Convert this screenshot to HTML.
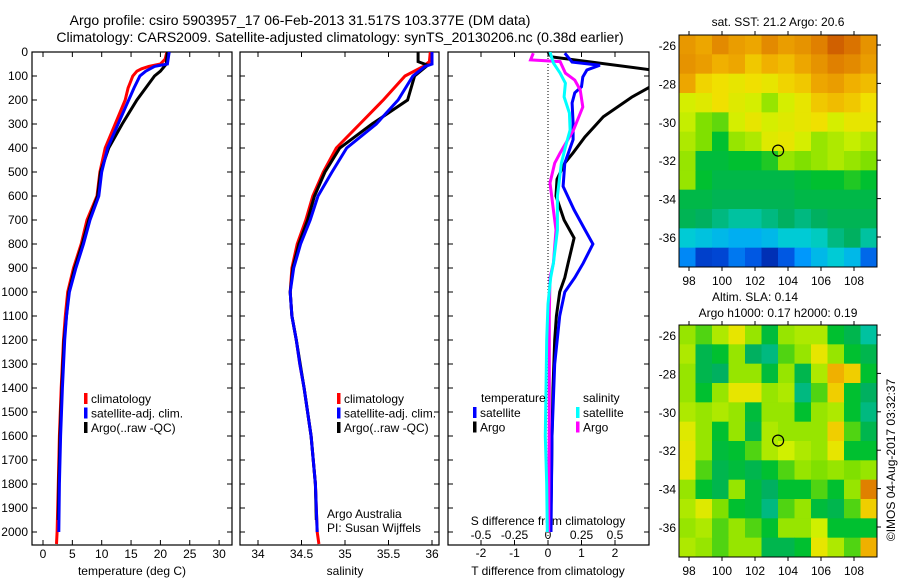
<!DOCTYPE html>
<html><head><meta charset="utf-8"><style>
html,body{margin:0;padding:0;background:#fff;}
svg{display:block;font-family:"Liberation Sans",sans-serif;}
text{fill:#000;}
</style></head><body>
<svg id="fig" width="900" height="580" viewBox="0 0 900 580" xmlns="http://www.w3.org/2000/svg">
<defs>
<clipPath id="c1"><rect x="32" y="52" width="200" height="493"/></clipPath>
<clipPath id="c2"><rect x="240" y="52" width="199" height="493"/></clipPath>
<clipPath id="c3"><rect x="448" y="52" width="201" height="493"/></clipPath>
</defs>
<text x="300" y="25" font-size="14" text-anchor="middle">Argo profile: csiro 5903957_17 06-Feb-2013 31.517S 103.377E (DM data)</text>
<text x="340" y="42" font-size="14" text-anchor="middle">Climatology: CARS2009. Satellite-adjusted climatology: synTS_20130206.nc (0.38d earlier)</text>
<g id="p1"></g>
<g id="p2"></g>
<g id="p3"></g>
<g id="m1"></g>
<g id="m2"></g>
<text x="895" y="460" font-size="12" text-anchor="middle" transform="rotate(-90 895 460)">©IMOS 04-Aug-2017 03:32:37</text>
</svg>
<script>
// ---- data ----
const depthTicks=[0,100,200,300,400,500,600,700,800,900,1000,1100,1200,1300,1400,1500,1600,1700,1800,1900,2000];
const tempTicks=[0,5,10,15,20,25,30];
const salTicks=[34,34.5,35,35.5,36];
const tdiffTicks=[-2,-1,0,1,2];
const sdiffTicks=[-0.5,-0.25,0,0.25,0.5];
const tClimDepth=[0,30,50,60,70,80,100,150,200,300,400,500,600,700,800,900,1000,1100,1200,1400,1600,1800,2000,2050];
const tClimVal=[21.1,20.8,20,18,16.8,16,15.3,14.5,14,12.3,10.6,9.7,9.2,7.5,6.5,5.2,4.2,3.8,3.5,3.1,2.8,2.6,2.4,2.3];
const tSatDepth=[0,50,60,80,100,150,200,300,400,500,600,700,800,900,1000,1100,1200,1400,1600,1800,2000];
const tSatVal=[21.5,21.2,19,17.5,16.5,15.5,14.6,12.8,11,10,9.5,8,6.9,5.6,4.5,4,3.7,3.3,3,2.8,2.7];
const tArgoDepth=[0,50,80,100,150,200,300,400,500,600,700,800,900,1000,1200,1400,1600,1800,1950];
const tArgoVal=[21.2,21,20,19,17.5,16,13.5,11.2,9.8,9.3,7.8,6.7,5.4,4.4,3.6,3.2,2.9,2.7,2.6];
const sClimDepth=[0,40,60,100,200,300,400,500,600,700,800,900,1000,1100,1200,1300,1400,1600,1800,2000,2050];
const sClimVal=[35.98,35.97,35.9,35.69,35.44,35.17,34.9,34.75,34.63,34.55,34.45,34.39,34.37,34.39,34.44,34.48,34.53,34.61,34.66,34.68,34.7];
const sSatDepth=[0,50,60,100,200,300,400,500,600,700,800,900,1000,1100,1200,1300,1400,1600,1800,2000];
const sSatVal=[36.0,36.0,35.92,35.78,35.61,35.36,35.02,34.85,34.69,34.6,34.49,34.41,34.37,34.39,34.44,34.48,34.53,34.61,34.66,34.68];
const sArgoDepth=[0,40,55,70,100,200,300,400,500,600,700,800,900,1000,1100,1200,1400,1600,1800,1950];
const sArgoVal=[35.84,35.84,35.95,35.9,35.8,35.72,35.31,34.94,34.77,34.65,34.57,34.47,34.4,34.37,34.39,34.44,34.53,34.61,34.66,34.67];
const dTArgoDepth=[0,20,75,100,145,188,270,354,420,463,530,600,700,775,880,940,1000,1100,1200,1400,1600,1800,1950];
const dTArgoVal=[0,0.1,3.1,4,3.05,2.5,1.65,1.1,0.75,0.5,0.27,0.24,0.48,0.78,0.6,0.5,0.35,0.25,0.2,0.15,0.12,0.1,0.08];
const dTSatDepth=[5,42,55,75,104,145,170,212,296,365,463,560,658,740,800,880,940,1000,1100,1300,1600,2000];
const dTSatVal=[0.5,0.72,1.55,1.16,1.04,1.0,0.8,0.72,0.75,0.75,0.5,0.45,0.78,1.1,1.34,1.05,0.8,0.5,0.35,0.2,0.12,0.09];
const dSArgoDepth=[5,33,40,88,117,158,229,325,421,463,546,658,742,880,940,1100,1500,2000];
const dSArgoVal=[-0.11,-0.13,0.09,0.13,0.2,0.24,0.26,0.19,0.09,0.05,0.015,0.04,0.06,0.04,0.015,0.01,0.01,0.005];
const dSSatDepth=[0,46,88,130,187,254,325,396,463,600,742,880,940,1050,1200,1400,1600,1800,2000];
const dSSatVal=[0.015,0.04,0.09,0.13,0.12,0.16,0.165,0.13,0.1,0.07,0.07,0.04,0.02,0,-0.01,-0.015,-0.02,-0.01,-0.005];
const lonTicks=[98,100,102,104,106,108];
const latTicks=[-26,-28,-30,-32,-34,-36];
const sstGrid=[
[.85,.82,.88,.84,.82,.88,.84,.86,.9,.95,.92,.86],
[.86,.84,.8,.82,.76,.8,.78,.82,.86,.9,.88,.84],
[.82,.74,.72,.7,.72,.7,.74,.76,.82,.84,.8,.78],
[.66,.68,.72,.68,.66,.6,.66,.7,.76,.78,.76,.72],
[.64,.58,.56,.66,.7,.66,.68,.7,.72,.66,.7,.7],
[.62,.58,.5,.6,.62,.68,.7,.66,.6,.62,.64,.62],
[.6,.48,.48,.5,.5,.52,.6,.58,.6,.62,.6,.58],
[.6,.5,.46,.46,.46,.46,.46,.48,.5,.5,.52,.5],
[.46,.46,.44,.44,.44,.44,.44,.46,.46,.46,.46,.46],
[.44,.42,.4,.38,.38,.4,.42,.4,.42,.44,.44,.44],
[.34,.32,.3,.28,.28,.3,.34,.34,.36,.4,.42,.38],
[.22,.1,.12,.2,.16,.05,.16,.24,.3,.34,.3,.18]];
const slaGrid=[
[.6,.55,.62,.7,.6,.48,.6,.62,.62,.5,.45,.38],
[.62,.45,.5,.6,.42,.4,.55,.6,.7,.6,.5,.45],
[.6,.45,.42,.6,.6,.48,.6,.45,.62,.8,.75,.5],
[.6,.5,.6,.7,.7,.6,.62,.4,.55,.75,.5,.42],
[.62,.6,.62,.6,.48,.6,.6,.5,.6,.62,.5,.4],
[.68,.6,.5,.6,.45,.62,.6,.6,.6,.75,.55,.45],
[.7,.6,.48,.5,.55,.62,.65,.62,.6,.7,.5,.5],
[.7,.55,.45,.48,.45,.5,.55,.6,.58,.6,.58,.6],
[.6,.5,.45,.6,.48,.42,.5,.5,.55,.5,.6,.9],
[.62,.68,.58,.5,.48,.4,.55,.6,.48,.45,.55,.75],
[.6,.62,.55,.6,.55,.5,.6,.6,.65,.5,.5,.5],
[.62,.6,.55,.6,.6,.45,.45,.5,.7,.62,.55,.8]];
const argoLon=103.4, argoLat=-31.5;

// ---- scales ----
const NS="http://www.w3.org/2000/svg";
const yD=d=>52+d*0.24;
const xT=t=>43+t*5.87;
const xS=s=>258+(s-34)*87;
const xDT=t=>548+t*33.5;
const xDS=s=>548+s*134;
function mk(tag,attrs,parent){const e=document.createElementNS(NS,tag);for(const k in attrs)e.setAttribute(k,attrs[k]);parent.appendChild(e);return e;}
function txt(parent,x,y,s,size,anchor){const e=mk('text',{x:x,y:y,'font-size':size,'text-anchor':anchor},parent);e.textContent=s;return e;}
function line(parent,xs,ys,xf,col,clip,w){
  const pts=xs.map((v,i)=>xf(v).toFixed(1)+','+yD(ys[i]).toFixed(1)).join(' ');
  return mk('polyline',{points:pts,fill:'none',stroke:col,'stroke-width':w||3,'clip-path':'url(#'+clip+')'},parent);
}
function frame(g,x0,x1,name){
  const r=mk('rect',{x:x0,y:52,width:x1-x0,height:493,fill:'none',stroke:'#000','stroke-width':1.2},g);
  
  
  depthTicks.forEach(d=>{mk('line',{x1:x0,x2:x0+5,y1:yD(d),y2:yD(d),stroke:'#000'},g);mk('line',{x1:x1-5,x2:x1,y1:yD(d),y2:yD(d),stroke:'#000'},g);});
}
function xticks(g,vals,f,labelY){
  vals.forEach(v=>{const x=f(v);mk('line',{x1:x,x2:x,y1:545,y2:540,stroke:'#000'},g);mk('line',{x1:x,x2:x,y1:52,y2:57,stroke:'#000'},g);
   if(labelY){const t=txt(g,x,labelY,String(v),12,'middle');}});
}
function legend(g,x,y,entries){
  entries.forEach((e,i)=>{const r=mk('rect',{x:x,y:y+i*14.5-9,width:3.5,height:11,fill:e[1]},g);
    
    const t=txt(g,x+7,y+i*14.5+1,e[0],12,'start');});
}
// panel 1
const p1=document.getElementById('p1');
frame(p1,32,232,'temperature-axes');
depthTicks.forEach(d=>{const t=txt(p1,28,yD(d)+4,String(d),12,'end');});
xticks(p1,tempTicks,xT,558);
let t1=txt(p1,132,575,'temperature (deg C)',12,'middle');
let l;
l=line(p1,tClimVal,tClimDepth,xT,'#f00','c1');
l=line(p1,tArgoVal,tArgoDepth,xT,'#000','c1');
l=line(p1,tSatVal,tSatDepth,xT,'#00f','c1');
legend(p1,84,402,[['climatology','#f00'],['satellite-adj. clim.','#00f'],['Argo(..raw -QC)','#000']]);
// panel 2
const p2=document.getElementById('p2');
frame(p2,240,439,'salinity-axes');
xticks(p2,salTicks,xS,558);
let t2=txt(p2,345,575,'salinity',12,'middle');
l=line(p2,sClimVal,sClimDepth,xS,'#f00','c2');
l=line(p2,sArgoVal,sArgoDepth,xS,'#000','c2');
l=line(p2,sSatVal,sSatDepth,xS,'#00f','c2');
legend(p2,337,402,[['climatology','#f00'],['satellite-adj. clim.','#00f'],['Argo(..raw -QC)','#000']]);
let t3=txt(p2,327,518,'Argo Australia',12,'start');
let t4=txt(p2,327,532,'PI: Susan Wijffels',12,'start');
// panel 3
const p3=document.getElementById('p3');
frame(p3,448,649,'difference-axes');
tdiffTicks.forEach(v=>{const x=xDT(v);mk('line',{x1:x,x2:x,y1:545,y2:540,stroke:'#000'},p3);mk('line',{x1:x,x2:x,y1:52,y2:57,stroke:'#000'},p3);
  const t=txt(p3,x,557,String(v),12,'middle');});
sdiffTicks.forEach(v=>{const t=txt(p3,xDS(v),539,String(v),12,'middle');});
let t5=txt(p3,548,525,'S difference from climatology',12,'middle');
let t6=txt(p3,548,575,'T difference from climatology',12,'middle');
mk('line',{x1:548,x2:548,y1:52,y2:545,stroke:'#000','stroke-dasharray':'1,2'},p3);
l=line(p3,dTArgoVal,dTArgoDepth,xDT,'#000','c3');
l=line(p3,dTSatVal,dTSatDepth,xDT,'#00f','c3');
l=line(p3,dSArgoVal,dSArgoDepth,xDS,'#f0f','c3');
l=line(p3,dSSatVal,dSSatDepth,xDS,'#0ff','c3');
let t7=txt(p3,481,402,'temperature',12,'start');
let t8=txt(p3,583,402,'salinity',12,'start');
legend(p3,473,416,[['satellite','#00f'],['Argo','#000']]);
legend(p3,576,416,[['satellite','#0ff'],['Argo','#f0f']]);
// maps
const stops=[[0,[0,32,160]],[0.15,[0,80,224]],[0.25,[0,160,255]],[0.35,[0,208,208]],[0.42,[0,176,96]],[0.5,[0,192,48]],[0.58,[128,224,0]],[0.65,[208,240,0]],[0.72,[240,224,0]],[0.8,[240,176,0]],[0.9,[224,128,0]],[1,[192,64,0]]];
function cmap(v){for(let i=1;i<stops.length;i++){if(v<=stops[i][0]){const a=stops[i-1],b=stops[i],f=(v-a[0])/(b[0]-a[0]);return 'rgb('+a[1].map((c,k)=>Math.round(c+(b[1][k]-c)*f)).join(',')+')';}}return 'rgb(192,64,0)';}
function drawMap(g,y0,grid,title,titleY){
  const x0=679,w=198,h=232;
  const lonX=lo=>689+(lo-98)*16.5, latY=la=>y0+10+(-26-la)*19.2;
  const rows=grid.length,cols=grid[0].length;
  grid.forEach((row,r)=>row.forEach((v,c)=>{const rc=mk('rect',{x:x0+c*w/cols,y:y0+r*h/rows,width:w/cols+0.5,height:h/rows+0.5,fill:cmap(v)},g);
    }));
  mk('rect',{x:x0,y:y0,width:w,height:h,fill:'none',stroke:'#000'},g);
  lonTicks.forEach(lo=>{const x=lonX(lo);mk('line',{x1:x,x2:x,y1:y0,y2:y0-4,stroke:'#000'},g);mk('line',{x1:x,x2:x,y1:y0+h,y2:y0+h+4,stroke:'#000'},g);
    const t=txt(g,x,y0+h+18,String(lo),12,'middle');});
  latTicks.forEach(la=>{const y=latY(la);mk('line',{x1:x0+w,x2:x0+w+4,y1:y,y2:y,stroke:'#000'},g);
    const t=txt(g,676,y+5,String(la),12,'end');});
  const c=mk('circle',{cx:lonX(argoLon),cy:latY(argoLat),r:5.5,fill:'none',stroke:'#000','stroke-width':1.2},g);
  
  title.forEach((s,i)=>{const t=txt(g,i===0&&title.length>1?755:778,titleY+i*16,s,12,'middle');});
}
drawMap(document.getElementById('m1'),35,sstGrid,['sat. SST: 21.2 Argo: 20.6'],26);
drawMap(document.getElementById('m2'),325,slaGrid,['Altim. SLA: 0.14','Argo h1000: 0.17 h2000: 0.19'],301);
</script>
</body></html>
